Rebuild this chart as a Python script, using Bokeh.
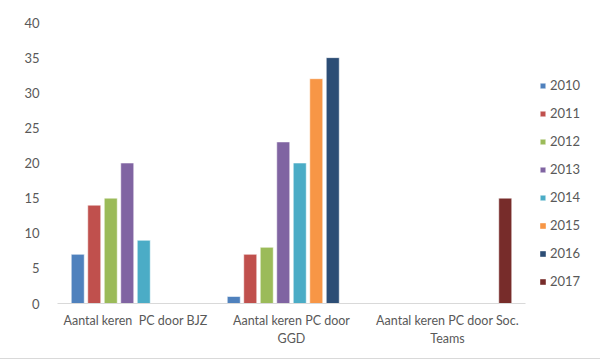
from bokeh.plotting import figure
from bokeh.models import ColumnDataSource, FactorRange, Range1d, Legend, LegendItem, SingleIntervalTicker
from bokeh.transform import dodge
from bokeh.embed import file_html
from bokeh.resources import INLINE

categories = ["Aantal keren \u00a0PC door BJZ", "Aantal keren PC door\nGGD", "Aantal keren PC door Soc.\nTeams"]
years = ["2010", "2011", "2012", "2013", "2014", "2015", "2016", "2017"]
v2010 = [7, 1, 0]
v2011 = [14, 7, 0]
v2012 = [15, 8, 0]
v2013 = [20, 23, 0]
v2014 = [9, 20, 0]
v2015 = [0, 32, 0]
v2016 = [0, 35, 0]
v2017 = [0, 0, 15]
colors = ["#4F81BD", "#C0504D", "#9BBB59", "#8064A2", "#4BACC6", "#F79646", "#2C4D75", "#772C2A"]

series = [v2010, v2011, v2012, v2013, v2014, v2015, v2016, v2017]
data = {"cat": categories}
for y, s in zip(years, series):
    data[y] = s
    data[y + "_la"] = [0.55 if v > 0 else 0.0 for v in s]
source = ColumnDataSource(data)

FONT = "Lato"
TXT = "#595959"

p = figure(x_range=FactorRange(*categories), y_range=Range1d(0, 40),
           frame_width=468, frame_height=281,
           min_border_left=57, min_border_right=0, min_border_top=22, min_border_bottom=55,
           output_backend="svg", toolbar_location=None)
p.x_range.range_padding = 0

step = 16.5 / 156
bw = 13 / 156
renderers = []
for i, (y, c) in enumerate(zip(years, colors)):
    r = p.vbar(x=dodge("cat", (i - 3.5) * step, range=p.x_range), top=y, width=bw,
               source=source, fill_color=c, line_color="white", line_alpha=y + "_la",
               line_width=1)
    renderers.append(r)

legend = Legend(items=[LegendItem(label=y, renderers=[r]) for y, r in zip(years, renderers)],
                location="bottom_left", glyph_width=7, glyph_height=7, label_height=16,
                spacing=12, padding=3, margin=14, label_standoff=4,
                label_text_font=FONT, label_text_font_size="13px", label_text_color=TXT,
                border_line_color=None, background_fill_alpha=0)
p.add_layout(legend, "right")

p.xgrid.grid_line_color = None
p.ygrid.grid_line_color = None
p.outline_line_color = None

p.yaxis.ticker = SingleIntervalTicker(interval=5)
p.yaxis.axis_line_color = None
p.yaxis.major_tick_line_color = None
p.yaxis.minor_tick_line_color = None
p.yaxis.major_label_standoff = 12
p.yaxis.major_label_text_font = FONT
p.yaxis.major_label_text_font_size = "13px"
p.yaxis.major_label_text_color = TXT

p.xaxis.axis_line_color = "#D9D9D9"
p.xaxis.major_tick_line_color = None
p.xaxis.minor_tick_line_color = None
p.xaxis.major_label_standoff = 3
p.xaxis.major_label_text_font = FONT
p.xaxis.major_label_text_font_size = "12.5px"
p.xaxis.major_label_text_color = TXT

p.styles = {"outline": "1px solid #D9D9D9"}

open("out.html", "w").write(file_html(p, INLINE))
